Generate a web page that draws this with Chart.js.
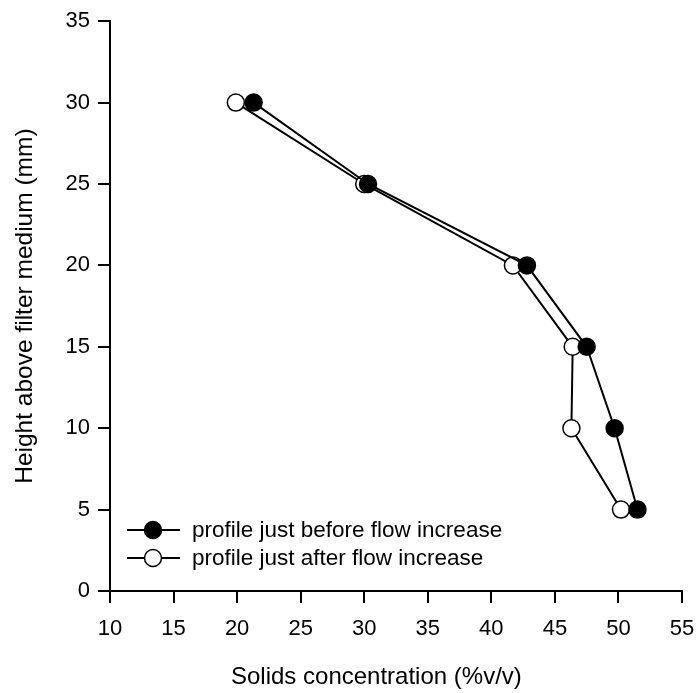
<!DOCTYPE html>
<html>
<head>
<meta charset="utf-8">
<script src="https://cdn.jsdelivr.net/npm/chart.js@4.4.1/dist/chart.umd.min.js"></script>
<style>
  html, body { margin: 0; padding: 0; background: #ffffff; }
  #wrap { width: 696px; height: 693px; }
</style>
</head>
<body>
<div id="wrap"><canvas id="solidsChart"></canvas></div>
<script>
// heights above filter medium (mm)
const heights = [30, 25, 20, 15, 10, 5];

// solids concentration (%v/v) for each height
const beforeConc = [21.3, 30.3, 42.8, 47.5, 49.7, 51.5];
const afterConc = [19.9, 30.0, 41.7, 46.4, 46.3, 50.2];

const seriesNames = ['profile just before flow increase', 'profile just after flow increase'];

const xTicks = [10, 15, 20, 25, 30, 35, 40, 45, 50, 55];
const yTicks = [0, 5, 10, 15, 20, 25, 30, 35];

const xTitle = 'Solids concentration (%v/v)';
const yTitle = 'Height above filter medium (mm)';

const FONT = '"Liberation Sans", Arial, sans-serif';

function toPoints(xs) {
  return xs.map((x, i) => ({ x: x, y: heights[i] }));
}

// legend inside the plot (bottom left) and the x title, which sits a bit left of centre in the original
const extras = {
  id: 'extras',
  afterDraw(chart) {
    const ctx = chart.ctx;
    const area = chart.chartArea;
    const rows = [
      { name: seriesNames[0], fill: '#000000' },
      { name: seriesNames[1], fill: '#ffffff' }
    ];
    ctx.save();
    rows.forEach((r, i) => {
      const y = area.bottom - 61 + i * 28;
      const x0 = area.left + 17;
      ctx.strokeStyle = '#000';
      ctx.lineWidth = 2;
      ctx.beginPath();
      ctx.moveTo(x0, y);
      ctx.lineTo(x0 + 53, y);
      ctx.stroke();
      ctx.beginPath();
      ctx.arc(x0 + 26, y, 8.5, 0, Math.PI * 2);
      ctx.fillStyle = r.fill;
      ctx.fill();
      ctx.lineWidth = 1.5;
      ctx.stroke();
      ctx.fillStyle = '#000';
      ctx.font = '22.5px ' + FONT;
      ctx.textBaseline = 'middle';
      ctx.textAlign = 'left';
      ctx.fillText(r.name, x0 + 65, y + 1);
    });

    ctx.font = '24px ' + FONT;
    ctx.textAlign = 'left';
    ctx.textBaseline = 'middle';
    ctx.fillStyle = '#000';
    ctx.fillText(xTitle, area.left + 121, area.bottom + 86);
    ctx.restore();
  }
};

const ctx = document.getElementById('solidsChart');

new Chart(ctx, {
  type: 'scatter',
  data: {
    datasets: [
      {
        label: seriesNames[0],
        data: toPoints(beforeConc),
        showLine: true,
        borderColor: '#000000',
        borderWidth: 2,
        pointRadius: 8.5,
        pointHoverRadius: 8.5,
        pointBackgroundColor: '#000000',
        pointBorderColor: '#000000',
        pointBorderWidth: 1.5
      },
      {
        label: seriesNames[1],
        data: toPoints(afterConc),
        showLine: true,
        borderColor: '#000000',
        borderWidth: 2,
        pointRadius: 8.5,
        pointHoverRadius: 8.5,
        pointBackgroundColor: '#ffffff',
        pointBorderColor: '#000000',
        pointBorderWidth: 1.5
      }
    ]
  },
  options: {
    responsive: true,
    maintainAspectRatio: false,
    animation: false,
    layout: {
      padding: { top: 20, right: 0, left: 0, bottom: 0 }
    },
    plugins: {
      legend: { display: false },
      tooltip: { enabled: false }
    },
    scales: {
      x: {
        type: 'linear',
        min: 10,
        max: 55,
        afterBuildTicks: (s) => { s.ticks = xTicks.map(v => ({ value: v })); },
        afterFit: (s) => {
          s.height = 102;
          s.paddingLeft = 0;
          s.paddingRight = 14;
        },
        ticks: {
          color: '#000',
          font: { family: FONT, size: 22 },
          padding: 13
        },
        grid: {
          drawOnChartArea: false,
          drawTicks: true,
          tickLength: 12,
          color: '#000',
          lineWidth: 2
        },
        border: { display: true, color: '#000', width: 2 },
        title: { display: false }
      },
      y: {
        type: 'linear',
        min: 0,
        max: 35,
        afterBuildTicks: (s) => { s.ticks = yTicks.map(v => ({ value: v })); },
        afterFit: (s) => { s.width = 110; },
        ticks: {
          color: '#000',
          font: { family: FONT, size: 22 },
          padding: 8
        },
        grid: {
          drawOnChartArea: false,
          drawTicks: true,
          tickLength: 12,
          color: '#000',
          lineWidth: 2
        },
        border: { display: true, color: '#000', width: 2 },
        title: {
          display: true,
          text: yTitle,
          color: '#000',
          font: { family: FONT, size: 24.5 },
          padding: { top: 11, bottom: 0 }
        }
      }
    }
  },
  plugins: [extras]
});
</script>
</body>
</html>
